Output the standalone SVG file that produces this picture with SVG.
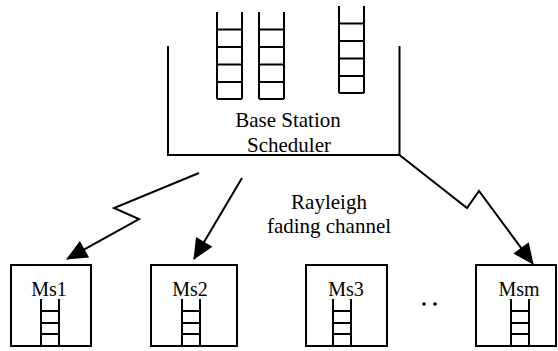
<svg xmlns="http://www.w3.org/2000/svg" width="558" height="351" viewBox="0 0 558 351">
<style>
.ln{fill:none;stroke:#000;stroke-width:2}
.bx{fill:#fff;stroke:#000;stroke-width:2}
</style>
<defs>
<marker id="ah" markerUnits="userSpaceOnUse" viewBox="0 0 21 19" markerWidth="21" markerHeight="19" refX="20" refY="9.5" orient="auto" overflow="visible">
<path d="M0,0 L21,9.5 L0,19 z" fill="#000"/>
</marker>
<g id="q5">
<path class="ln" d="M0,0 V87 M25,0 V87 M0,17.5 H25 M0,35 H25 M0,52.5 H25 M0,70 H25 M0,87 H25"/>
</g>
<g id="q3">
<path class="ln" d="M0,0 V47 M18,0 V47 M0,12 H18 M0,24 H18 M0,35 H18"/>
</g>
</defs>
<rect width="558" height="351" fill="#fff"/>
<g font-family="'Liberation Serif', 'DejaVu Serif', serif" fill="#000" text-anchor="middle">
<g id="base-station">
<path class="ln" d="M168,46 V155 H399.5 V46"/>
<use href="#q5" x="217" y="12"/>
<use href="#q5" x="259" y="12"/>
<use href="#q5" x="339" y="6"/>
<text font-size="21" x="288" y="127">Base Station</text>
<text font-size="21" x="289" y="152">Scheduler</text>
</g>
<g id="connectors">
<path class="ln" d="M199,173 L114,208 L139,219 L67,259" marker-end="url(#ah)"/>
<path class="ln" d="M242,178 L194,259" marker-end="url(#ah)"/>
<path class="ln" d="M399.5,155 L467,208 L479,191 L533,264" marker-end="url(#ah)"/>
</g>
<g id="channel-label">
<text font-size="21" x="329" y="209">Rayleigh</text>
<text font-size="21" x="329" y="233">fading channel</text>
</g>
<g id="ms1">
<rect class="bx" x="11" y="265" width="80" height="81"/>
<text font-size="20" x="49" y="296">Ms1</text>
<use href="#q3" x="41" y="299"/>
</g>
<g id="ms2">
<rect class="bx" x="151" y="265" width="86" height="81"/>
<text font-size="20" x="190" y="296">Ms2</text>
<use href="#q3" x="182" y="299"/>
</g>
<g id="ms3">
<rect class="bx" x="306" y="265" width="81" height="81"/>
<text font-size="20" x="346" y="296">Ms3</text>
<use href="#q3" x="333" y="299"/>
</g>
<g id="dots">
<circle cx="424" cy="304" r="1.8" fill="#000"/>
<circle cx="435" cy="304" r="1.8" fill="#000"/>
</g>
<g id="msm">
<rect class="bx" x="476" y="265" width="80" height="81"/>
<text font-size="20" x="519" y="296">Msm</text>
<use href="#q3" x="511" y="299"/>
</g>
</g>
</svg>
